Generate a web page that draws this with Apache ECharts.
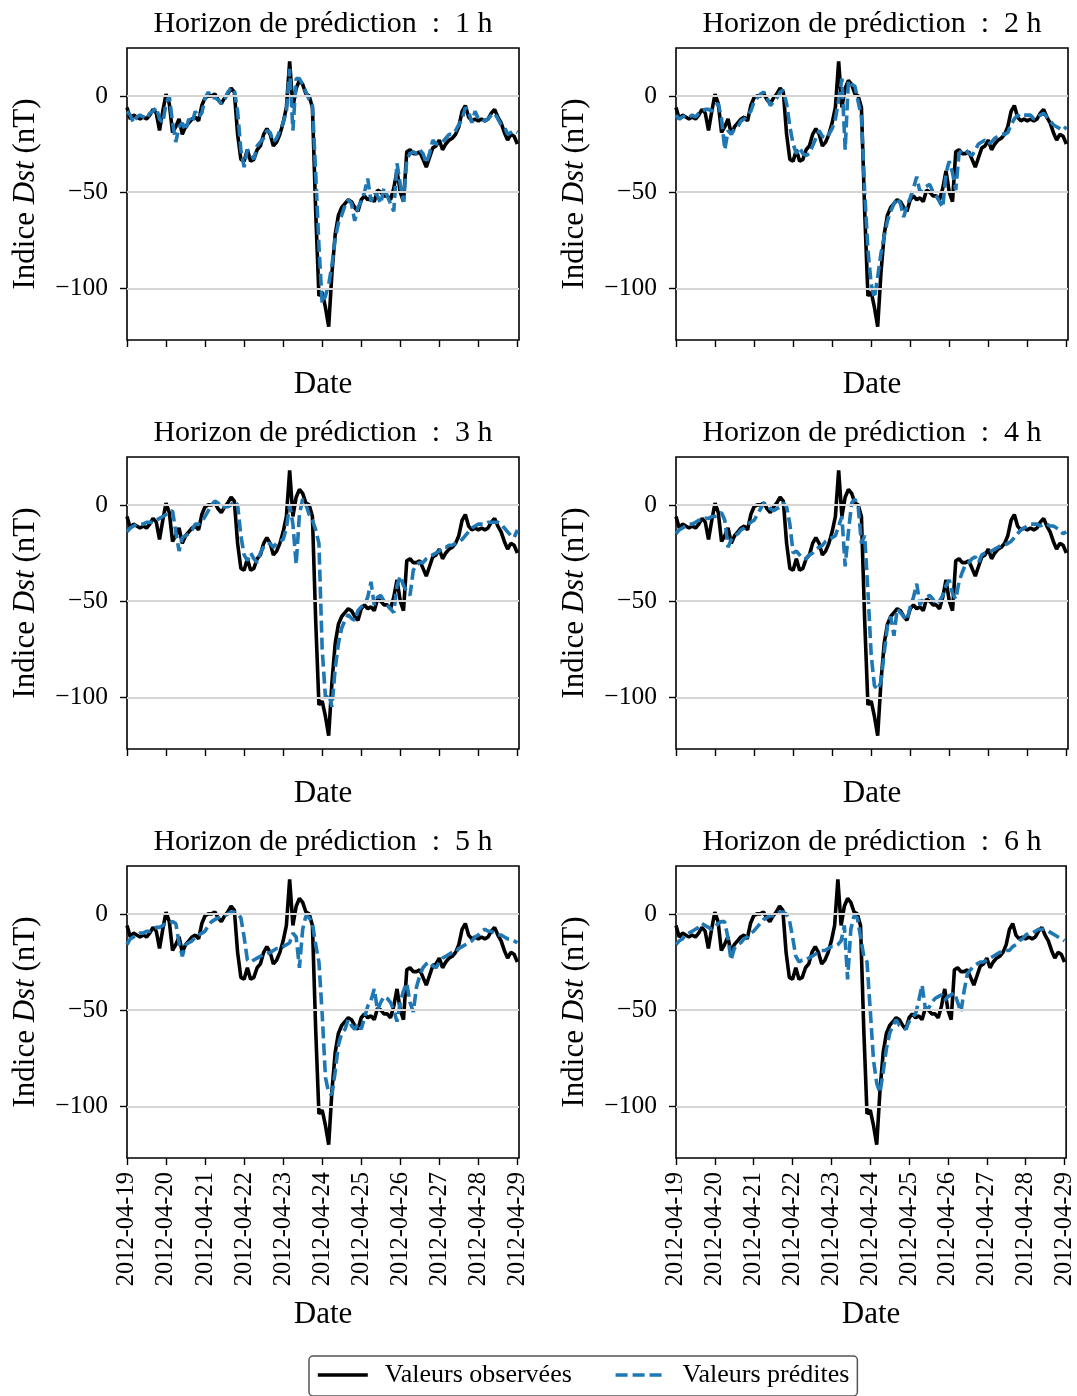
<!DOCTYPE html>
<html>
<head>
<meta charset="utf-8">
<script src="https://cdn.jsdelivr.net/npm/echarts@6/dist/echarts.min.js"></script>
<style>
html, body { margin: 0; padding: 0; background: #fff; }
#chart { width: 1077px; height: 1396px; }
</style>
</head>
<body>
<div id="chart"></div>
<script>
// heures depuis 2012-04-19 00:00, pas de 2 h
var tickLabels = ['2012-04-19', '2012-04-20', '2012-04-21', '2012-04-22', '2012-04-23', '2012-04-24',
    '2012-04-25', '2012-04-26', '2012-04-27', '2012-04-28', '2012-04-29'];
var tickHours = [0, 24, 48, 72, 96, 120, 144, 168, 192, 216, 240];
var yTicks = [-100, -50, 0];
var horizons = [1, 2, 3, 4, 5, 6];

// Dst observé (nT)
var observed = [
    -6, -12, -10, -11, -12, -11, -12, -10, -7, -9,
    -18, -8, 1, -4, -19, -16, -12, -20, -16, -14,
    -12, -11, -13, -5, -1, 0, 0, 1, -2, -4,
    -1, 1, 4, 2, -20, -33, -34, -28, -34, -33,
    -28, -26, -20, -17, -20, -26, -24, -20, -14, -6,
    18, -6, 4, 8, 6, 1, 0, -6, -60, -104,
    -102, -110, -120, -92, -72, -62, -58, -56, -54, -55,
    -58, -60, -54, -52, -54, -53, -55, -49, -50, -52,
    -52, -54, -48, -39, -50, -55, -29, -28, -30, -30,
    -29, -33, -37, -32, -27, -26, -23, -28, -25, -23,
    -22, -20, -16, -8, -5, -11, -13, -12, -13, -12,
    -13, -12, -9, -7, -11, -14, -19, -23, -20, -21,
    -25
];

// Dst prédit, un tableau par horizon
var pred1h = [
    -8, -10, -14, -11, -10, -11, -12, -9, -8, -6,
    -12, -14, -4, 0, -14, -24, -16, -14, -18, -12,
    -14, -8, -11, -9, -1, 2, -1, -1, -2, -4,
    -2, 2, 4, 3, -8, -28, -37, -28, -30, -33,
    -26, -24, -22, -18, -19, -24, -22, -18, -14, -8,
    14, -18, 9, 9, 6, 2, -2, -5, -40, -78,
    -108, -104, -98, -88, -74, -66, -62, -57, -54, -56,
    -65, -58, -55, -50, -43, -55, -50, -52, -56, -48,
    -52, -56, -60, -35, -46, -55, -33, -30, -29, -30,
    -28, -30, -35, -30, -23, -25, -25, -24, -22, -20,
    -20, -18, -15, -12, -6, -8, -14, -8, -12, -12,
    -13, -12, -10, -9, -12, -15, -16, -20, -19, -18,
    -19
];
var pred2h = [
    -10, -12, -11, -10, -11, -10, -11, -9, -8, -7,
    -7, -8, -5, -4, -12, -28, -18, -20, -17, -16,
    -13, -12, -10, -8, -3, -1, 1, 2, -1, -5,
    -3, -1, 2, 3, -4, -16, -25, -30, -27, -30,
    -31, -30, -26, -22, -18, -21, -22, -20, -17, -12,
    -2, 9, -28, 8, 6, 5, -3, -11, -50, -80,
    -98, -105, -94, -82, -73, -65, -60, -56, -53, -56,
    -63, -57, -53, -48, -42, -50, -48, -47, -46, -50,
    -52, -55, -58, -40, -34, -40, -49, -30, -28, -28,
    -30, -31, -28, -25, -24, -23, -25, -24, -22, -21,
    -20, -20, -19, -15, -12, -10, -11, -10, -10, -10,
    -12, -11, -10, -9, -11, -13, -15, -16, -17, -18,
    -16
];
var pred3h = [
    -14, -12, -11, -10, -10, -10, -9, -9, -9, -8,
    -7, -6, -5, -4, -3, -14, -24, -17, -16, -15,
    -13, -10, -10, -9, -6, -3, 0, 2, 1, -2,
    -1, -1, 0, 2, 0, -16, -26, -29, -25, -28,
    -30, -25, -22, -20, -20, -22, -20, -19, -18, -12,
    0, -10, -31, -5, 3, 0, -5, -8, -13, -20,
    -75, -100, -98, -105, -85, -72, -64, -60, -57, -59,
    -60, -55, -53, -52, -48, -40, -52, -48, -47, -50,
    -52, -54, -56, -42, -37, -42, -45, -47, -34, -31,
    -30, -30, -28, -27, -26, -25, -24, -22, -22, -21,
    -21, -20, -19, -18, -16, -14, -12, -11, -10, -10,
    -10, -9, -9, -9, -9, -10, -12, -14, -16, -17,
    -13
];
var pred4h = [
    -15, -13, -12, -11, -10, -10, -9, -8, -8, -7,
    -7, -6, -6, -5, -4, -8, -22, -18, -16, -15,
    -13, -12, -10, -9, -8, -5, -2, 1, 0, -2,
    -3, -2, -1, 1, -1, -10, -25, -24, -26, -28,
    -28, -26, -25, -23, -22, -21, -19, -18, -17, -16,
    -11, -6, -32, -14, 1, 3, -1, -20, -16, -45,
    -78, -94, -96, -92, -77, -63, -58, -68, -54, -56,
    -58, -60, -53, -48, -41, -52, -49, -48, -47, -49,
    -52, -50, -47, -42, -39, -46, -49, -40, -35, -31,
    -30, -28, -27, -30, -26, -25, -25, -24, -23, -22,
    -21, -21, -20, -19, -17, -15, -13, -12, -11, -10,
    -10, -10, -11, -10, -10, -11, -11, -12, -13, -15,
    -14
];
var pred5h = [
    -16, -13, -12, -11, -10, -10, -9, -9, -8, -7,
    -7, -6, -5, -5, -4, -5, -15, -22, -16, -15,
    -14, -12, -11, -10, -9, -6, -4, -3, -2, -2,
    -1, 0, 1, 1, 0, -2, -12, -24, -25, -24,
    -23, -22, -21, -21, -20, -19, -18, -18, -17, -16,
    -15, -10, -12, -28, -8, -1, -2, -5, -16, -25,
    -52, -85, -93, -94, -82, -68, -62, -60, -55, -58,
    -60, -57, -60, -54, -48, -45, -39, -50, -46, -43,
    -44, -46, -50, -56, -46, -40, -36, -46, -51, -38,
    -32, -28, -26, -25, -27, -28, -25, -23, -22, -21,
    -20, -20, -18, -17, -16, -15, -14, -12, -11, -9,
    -8, -9, -9, -10, -11, -11, -12, -13, -13, -14,
    -15
];
var pred6h = [
    -16, -14, -13, -11, -10, -9, -8, -7, -5, -6,
    -7, -8, -7, -5, -4, -4, -12, -24, -18, -16,
    -15, -13, -12, -10, -9, -7, -5, -3, -2, -1,
    -1, 0, 1, 1, 0, -3, -12, -22, -25, -24,
    -24, -23, -22, -21, -20, -19, -19, -18, -17, -17,
    -16, -14, -6, -34, -8, -1, -2, -12, -22, -25,
    -50, -76, -88, -93, -82, -70, -62, -58, -55, -58,
    -59, -60, -56, -54, -52, -45, -37, -49, -49, -46,
    -44, -43, -42, -45, -43, -42, -41, -46, -51, -40,
    -31, -29, -27, -26, -25, -25, -24, -23, -22, -21,
    -20, -20, -19, -19, -17, -16, -14, -13, -11, -10,
    -10, -9, -8, -8, -8, -9, -10, -11, -12, -13,
    -14
];
var predicted = [pred1h, pred2h, pred3h, pred4h, pred5h, pred6h];

var chart = echarts.init(document.getElementById('chart'));

var FONT = 'Liberation Serif';
var colLeft = [127, 676];
var rowTop = [48, 457, 866];
var W = 392, H = 292;

function withHours(arr) {
    return arr.map(function (v, i) { return [i * 2, v]; });
}
function minus(v) {
    return String(v).replace('-', '\u2212');
}

var grids = [], xAxes = [], yAxes = [], series = [], graphics = [];

horizons.forEach(function (h, k) {
    var col = k % 2, row = Math.floor(k / 2);
    var left = colLeft[col], top = rowTop[row];
    var bottomRow = row === 2;

    grids.push({
        left: left, top: top, width: W, height: H,
        show: true, borderColor: '#000', borderWidth: 1.6, backgroundColor: '#fff'
    });

    xAxes.push({
        gridIndex: k, type: 'value', min: 0, max: 241,
        axisLine: { show: false, onZero: false },
        axisTick: { show: true, inside: false, length: 7, customValues: tickHours,
            lineStyle: { color: '#000', width: 1.4 } },
        axisLabel: {
            show: bottomRow, customValues: tickHours, rotate: 90, margin: 14,
            fontFamily: FONT, fontSize: 24.5, color: '#000',
            formatter: function (v) { return tickLabels[Math.round(v / 24)]; }
        },
        splitLine: { show: false },
        name: 'Date', nameLocation: 'middle', nameGap: bottomRow ? 141 : 29,
        nameTextStyle: { fontFamily: FONT, fontSize: 31, color: '#000' }
    });

    yAxes.push({
        gridIndex: k, type: 'value', min: -126.9, max: 24.9,
        axisLine: { show: false, onZero: false },
        axisTick: { show: true, inside: false, length: 7, customValues: yTicks,
            lineStyle: { color: '#000', width: 1.4 } },
        axisLabel: {
            customValues: yTicks, margin: 19, fontFamily: FONT, fontSize: 25.5, color: '#000',
            formatter: minus
        },
        splitLine: { show: false },
        name: 'Indice {i|Dst} (nT)', nameLocation: 'middle', nameRotate: 90, nameGap: 86,
        nameTextStyle: {
            fontFamily: FONT, fontSize: 31, color: '#000',
            rich: { i: { fontFamily: FONT, fontSize: 31, fontStyle: 'italic', color: '#000' } }
        }
    });

    // lignes de grille horizontales
    series.push({
        type: 'line', xAxisIndex: k, yAxisIndex: k, z: 1, silent: true,
        data: withHours(observed), symbol: 'none',
        lineStyle: { opacity: 0 },
        markLine: {
            silent: true, symbol: ['none', 'none'], label: { show: false },
            lineStyle: { color: '#d5d5d5', width: 1.8, type: 'solid' },
            emphasis: { disabled: true },
            data: yTicks.map(function (v) { return { yAxis: v }; })
        }
    });
    series.push({
        name: 'Valeurs observées', type: 'line', xAxisIndex: k, yAxisIndex: k, z: 3,
        data: withHours(observed), symbol: 'none',
        lineStyle: { color: '#000', width: 3.6 }, itemStyle: { color: '#000' }
    });
    series.push({
        name: 'Valeurs prédites', type: 'line', xAxisIndex: k, yAxisIndex: k, z: 4,
        data: withHours(predicted[k]), symbol: 'none',
        lineStyle: { color: '#1f77b4', width: 3.6, type: [12, 5] }, itemStyle: { color: '#1f77b4' }
    });

    graphics.push({
        type: 'text', x: left + W / 2, y: top - 24,
        style: {
            text: 'Horizon de prédiction\u2002:\u2002' + h + ' h',
            fontFamily: FONT, fontSize: 30, fill: '#000',
            align: 'center', verticalAlign: 'middle'
        }
    });
});

chart.setOption({
    animation: false,
    backgroundColor: '#fff',
    textStyle: { fontFamily: FONT },
    grid: grids,
    xAxis: xAxes,
    yAxis: yAxes,
    series: series,
    graphic: graphics,
    legend: {
        data: ['Valeurs observées', 'Valeurs prédites'],
        left: 309, top: 1356,
        padding: [6, 8, 8, 7],
        itemWidth: 50, itemHeight: 14, itemGap: 42,
        itemStyle: { opacity: 0 },
        lineStyle: { width: 3.6 },
        borderColor: '#555', borderWidth: 1.5, borderRadius: 4,
        backgroundColor: '#fff',
        textStyle: { fontFamily: FONT, fontSize: 26, color: '#000', padding: [0, 0, 0, 12] }
    }
});
</script>
</body>
</html>
